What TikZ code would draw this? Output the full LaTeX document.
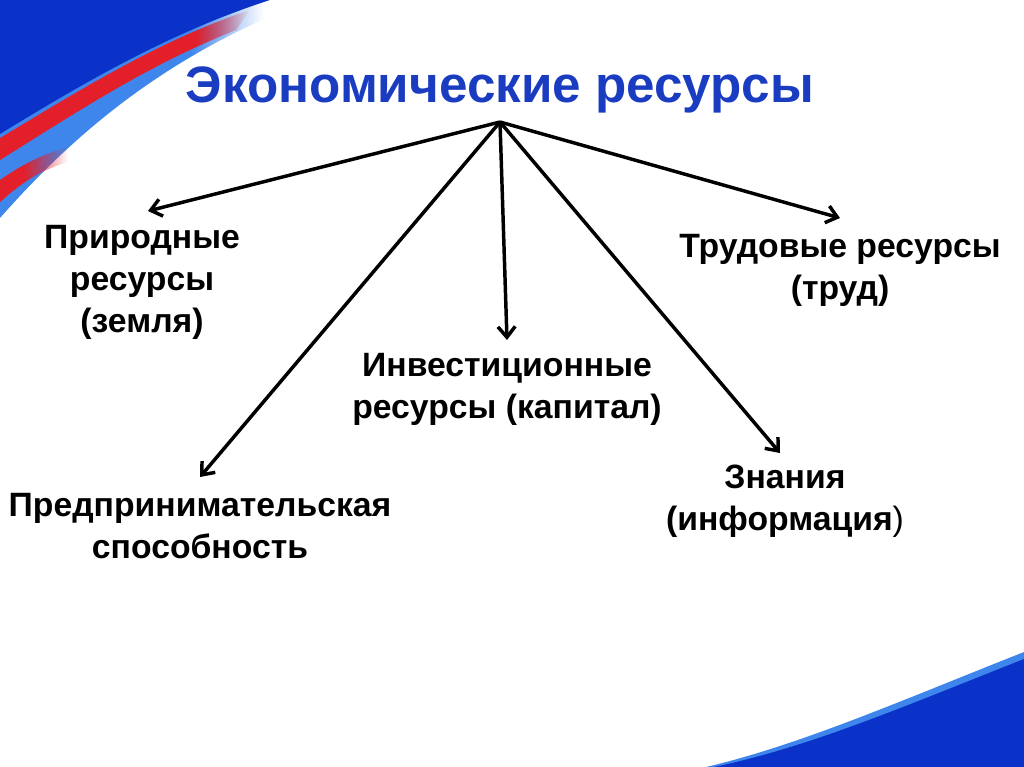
\documentclass[tikz,border=0pt]{standalone}
\usepackage{fontspec}
\setmainfont{Liberation Sans}
\usetikzlibrary{arrows.meta,fadings}
\definecolor{dkblue}{HTML}{0A32C8}
\definecolor{ltblue}{HTML}{3F86EC}
\definecolor{stripered}{HTML}{E3202A}
\definecolor{titleblue}{HTML}{1A3CC0}
\pgfdeclarehorizontalshading{redplat}{100bp}{color(0bp)=(white); color(64bp)=(white); color(75bp)=(black); color(100bp)=(black)}
\pgfdeclarehorizontalshading{blueplat}{100bp}{color(0bp)=(white); color(59bp)=(white); color(72bp)=(black); color(100bp)=(black)}
\pgfdeclarehorizontalshading{smallplat}{100bp}{color(0bp)=(white); color(42bp)=(white); color(75bp)=(black); color(100bp)=(black)}
\tikzfading[name=redfadeX, shade, shading=redplat]
\tikzfading[name=bluefadeX, shade, shading=blueplat]
\tikzfading[name=smallfadeX, shade, shading=smallplat]
\tikzset{
  label/.style={font=\bfseries\fontsize{25.3pt}{31.5pt}\selectfont, align=center, text=black, inner sep=0pt},
  titletext/.style={font=\bfseries\fontsize{38.4pt}{44pt}\selectfont, text=titleblue, inner sep=0pt},
  conn/.style={line width=2.6pt, -{Straight Barb[length=8pt,width=13pt,line width=2.6pt]}}
}
\begin{document}
\begin{tikzpicture}[x=0.75pt,y=-0.75pt]
\useasboundingbox (0,0) rectangle (1024,767);
% top-left decoration
\fill[ltblue, path fading=bluefadeX] (0,0) -- (280,0) -- (262,20) .. controls (140,75) and (60,150) .. (0,218) -- cycle;
\fill[stripered, path fading=redfadeX] (0,138) .. controls (80,90) and (160,40) .. (250,10) -- (236,30) .. controls (150,64) and (80,110) .. (0,160) -- cycle;
\fill[stripered, path fading=smallfadeX] (0,180) .. controls (20,166) and (40,155) .. (68,147) -- (68,162) .. controls (40,170) and (20,184) .. (0,202) -- cycle;
\fill[dkblue] (0,0) -- (270,0) .. controls (170,32) and (80,85) .. (0,134) -- cycle;
% bottom-right decoration
\fill[ltblue] (1024,652) .. controls (900,701) and (800,745) .. (706,767) -- (1024,767) -- cycle;
\fill[dkblue] (1024,659) .. controls (905,706) and (810,747) .. (714,767) -- (1024,767) -- cycle;
% texts
\node[titletext] (title) at (500,90) {Экономические ресурсы};
\coordinate (hub) at (500,122);
\node[label] (nat) at (142,282) {Природные\\ресурсы\\(земля)};
\node[label] (lab) at (840,270) {Трудовые ресурсы\\(труд)};
\node[label] (inv) at (507,389) {Инвестиционные\\ресурсы (капитал)};
\node[label] (ent) at (200,526) {Предпринимательская\\способность};
\node[label] (know) at (785,501) {Знания\\(информация{\mdseries )}};
% arrow tips
\coordinate (tnat) at (148,211);
\coordinate (tlab) at (840,218);
\coordinate (tinv) at (507,340);
\coordinate (tent) at (200,477);
\coordinate (tknow) at (780,453);
\draw[conn] (hub) -- (tnat);
\draw[conn] (hub) -- (tlab);
\draw[conn] (hub) -- (tinv);
\draw[conn] (hub) -- (tent);
\draw[conn] (hub) -- (tknow);
\end{tikzpicture}
\end{document}
